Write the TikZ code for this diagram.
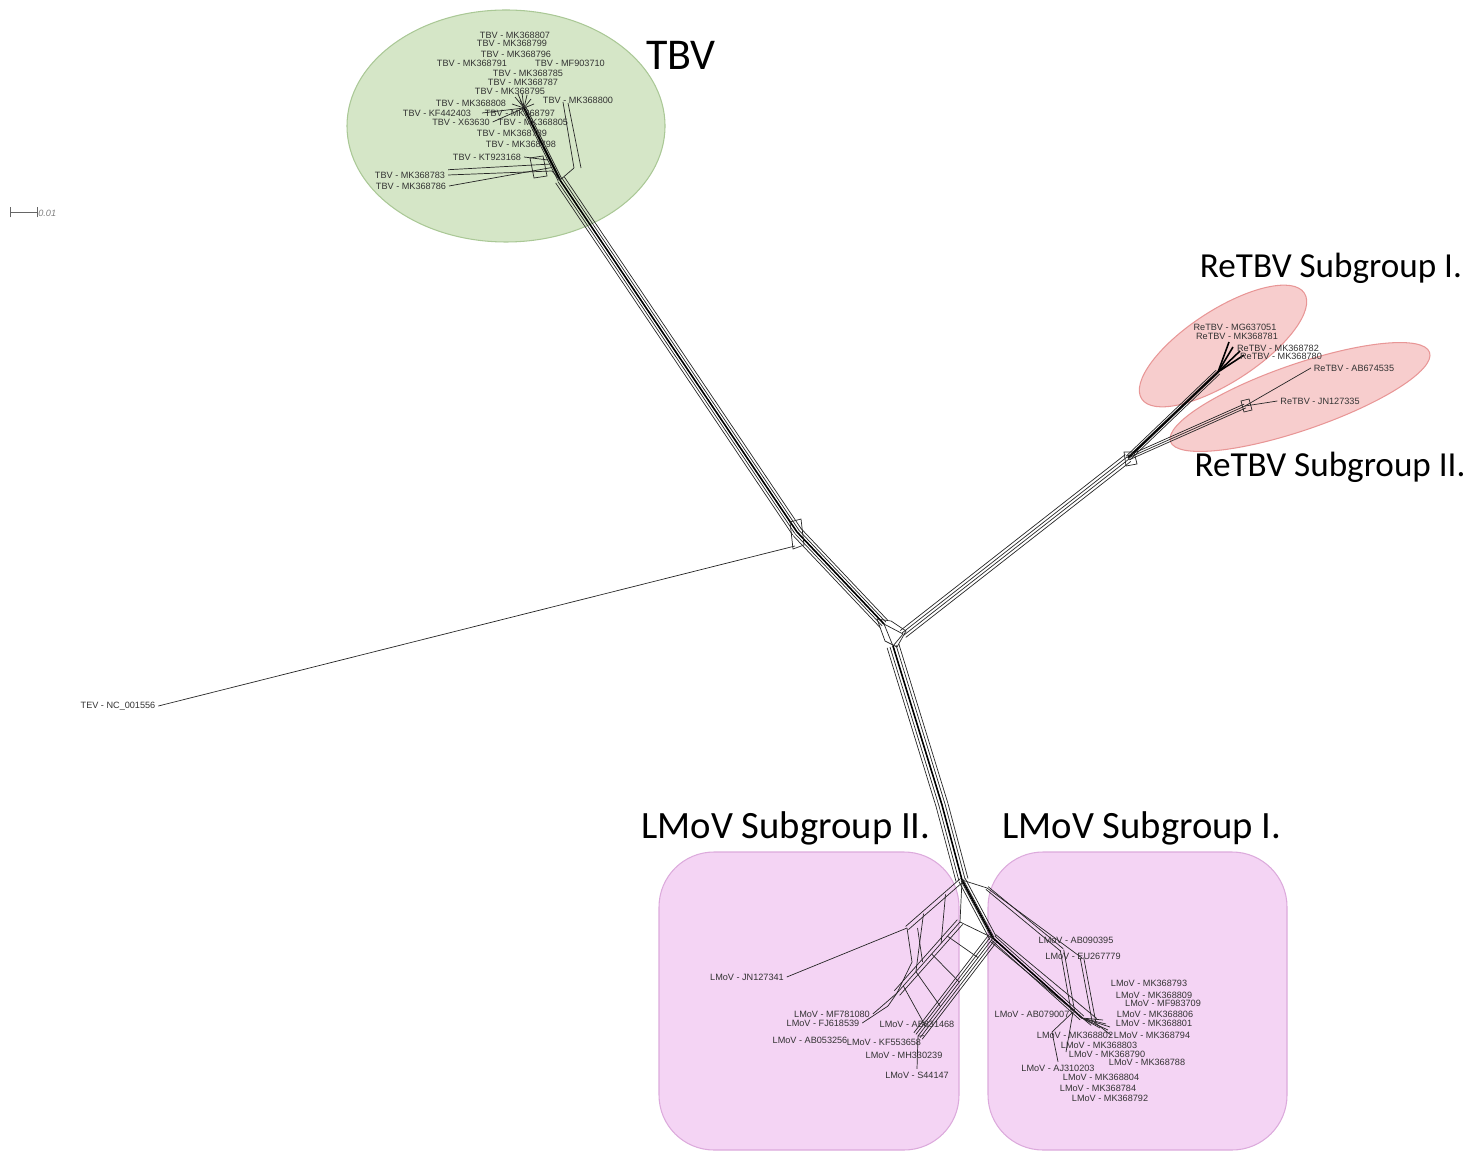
\documentclass[tikz,border=0pt]{standalone}
\usepackage{fontspec}
\setmainfont{Liberation Sans}
\newfontfamily\grpfont{Carlito}
\usetikzlibrary{calc}

\definecolor{tbvgreen}{RGB}{213,230,199}
\definecolor{tbvedge}{RGB}{170,200,150}
\definecolor{retbvpink}{RGB}{246,200,200}
\definecolor{retbvedge}{RGB}{232,150,150}
\definecolor{lmovpink}{RGB}{244,212,244}
\definecolor{lmovedge}{RGB}{220,170,220}

% parallel lines between two points (split network bands)
\newcommand{\bundle}[3]{\foreach \off in {#3}{\draw[net] ($(#1)!\off pt!90:(#2)$) -- ($(#2)!\off pt!-90:(#1)$);}}

\begin{document}
\begin{tikzpicture}[x=0.02cm, y=-0.02cm,
  net/.style = {draw = black!85, line width = .4pt},
  netb/.style = {draw = black, line width = .9pt},
  lbl/.style = {font = \fontsize{5.2}{6}\selectfont, text = black!80, inner sep = 1.5pt},
  grp/.style = {font = \grpfont\fontsize{#1}{#1}\selectfont, inner sep = 0pt},
  greenblob/.style = {fill = tbvgreen, draw = tbvedge, line width = .6pt},
  redblob/.style = {fill = retbvpink, draw = retbvedge, line width = .6pt, fill opacity = .9},
  lmovbox/.style = {fill = lmovpink, draw = lmovedge, line width = .6pt, rounded corners = 1.1cm}]
    \useasboundingbox (0,0) rectangle (1476,1151);

    % group shapes
    \path[greenblob] (506,126) ellipse [x radius = 159, y radius = 116];
    \path[redblob, rotate around = {19:(1300,397)}] (1300,397) ellipse [x radius = 137, y radius = 33];
    \path[redblob, rotate around = {33:(1223,346)}] (1223,346) ellipse [x radius = 97, y radius = 36];
    \path[lmovbox] (659,852) rectangle (959,1150);
    \path[lmovbox] (988,852) rectangle (1287,1150);

    % group titles
    \node[grp = 25] (tbvT) at (681,55) {TBV};
    \node[grp = 20] (reOneT) at (1331,268) {ReTBV Subgroup I.};
    \node[grp = 20] (reTwoT) at (1330,467) {ReTBV Subgroup II.};
    \node[grp = 22] (lmTwoT) at (786,828) {LMoV Subgroup II.};
    \node[grp = 22] (lmOneT) at (1142,828) {LMoV Subgroup I.};

    % scale bar
    \coordinate (sbA) at (10,212);
    \coordinate (sbB) at (37,212);
    \draw[black!60, line width = .4pt] (sbA) -- (sbB);
    \draw[black!60, line width = .4pt] ([yshift = -3]sbA) -- ([yshift = 3]sbA);
    \draw[black!60, line width = .4pt] ([yshift = -3]sbB) -- ([yshift = 3]sbB);
    \node[lbl, text = black!50, anchor = west, inner sep = 0pt] (sbL) at (38,213) {\itshape 0.01};

    % main splits
    \coordinate (tbvHub) at (524,108);
    \coordinate (tbvBase) at (560,180);
    \coordinate (tevJ) at (797,532);
    \coordinate (tevFork) at (795,546);
    \coordinate (cenT) at (884,624);
    \coordinate (cenR) at (903,634);
    \coordinate (cenL) at (893,646);
    \coordinate (reFork) at (1128,458);
    \coordinate (reOne) at (1218,372);
    \coordinate (reTwo) at (1245,406);
    \coordinate (lmBend) at (942,805);
    \coordinate (lmSplit) at (962,880);
    \coordinate (lmOne) at (993,938);
    \coordinate (lmTwo) at (960,922);

    \bundle{tbvHub}{tbvBase}{-1.2,-.4,.4,1.2}
    \draw[netb] (tbvHub) -- (tbvBase);
    \bundle{tbvBase}{tevJ}{-3,-1.5,0,1.5,3}
    \draw[netb] (tbvBase) -- (tevJ);
    \bundle{tevJ}{cenT}{-3,-1.5,0,1.5,3}
    \draw[netb] (tevJ) -- (cenT);
    \draw[net] (790,522) -- (801,519) -- (804,545) -- (793,549) -- cycle;
    \draw[net] (877,619) -- (891,621) -- (906,631) -- (897,647) -- (885,641) -- cycle;
    \draw[net] (cenT) -- (cenR) -- (cenL) -- (cenT);

    % TEV
    \node[lbl] (tev) at (118,706) {TEV - NC\_001556};
    \draw[net] (tevFork) -- (tev.east);

    % ReTBV
    \bundle{cenR}{reFork}{-2.5,-.8,.8,2.5}
    \draw[net] (1124,452) -- (1134,452) -- (1137,464) -- (1126,466) -- cycle;
    \bundle{reFork}{reOne}{-1.5,-.5,.5,1.5}
    \draw[netb] (reFork) -- (reOne);
    \bundle{reFork}{reTwo}{-1.2,0,1.2}
    \draw[net] (1241,401) -- (1249,399) -- (1252,410) -- (1244,412) -- cycle;
    \foreach \x/\y [count = \i] in {1229/342, 1233/347, 1240/351, 1244/355}
      {\coordinate (reOneTip\i) at (\x,\y); \draw[netb] (reOne) -- (reOneTip\i);}
    \node[lbl] (r051) at (1235,327) {ReTBV - MG637051};
    \node[lbl] (r781) at (1237,336) {ReTBV - MK368781};
    \node[lbl] (r782) at (1278,348) {ReTBV - MK368782};
    \node[lbl] (r780) at (1281,356) {ReTBV - MK368780};
    \node[lbl] (r535) at (1354,368) {ReTBV - AB674535};
    \node[lbl] (r335) at (1320,401) {ReTBV - JN127335};
    \draw[net] (reTwo) -- (r535.west);
    \draw[net] (reTwo) -- (r335.west);

    % TBV cluster
    \foreach \x/\y [count = \i] in {515/97, 518/94, 522/93, 527/95, 531/99, 512/104, 534/104, 520/100}
      {\coordinate (tbvTip\i) at (\x,\y); \draw[net] (tbvHub) -- (tbvTip\i);}
    \coordinate (tbvRight) at (574,168);
    \coordinate (tbvLow) at (552,171);
    \draw[net] (tbvBase) -- (tbvRight);
    \node[lbl] (t807) at (515,35) {TBV - MK368807};
    \node[lbl] (t799) at (512,43) {TBV - MK368799};
    \node[lbl] (t796) at (516,54) {TBV - MK368796};
    \node[lbl] (t791) at (472,63) {TBV - MK368791};
    \node[lbl] (t710) at (570,63) {TBV - MF903710};
    \node[lbl] (t785) at (528,73) {TBV - MK368785};
    \node[lbl] (t787) at (523,82) {TBV - MK368787};
    \node[lbl] (t795) at (510,91) {TBV - MK368795};
    \node[lbl] (t808) at (471,103) {TBV - MK368808};
    \node[lbl] (t800) at (578,100) {TBV - MK368800};
    \node[lbl] (t403) at (437,113) {TBV - KF442403};
    \node[lbl] (t797) at (520,113) {TBV - MK368797};
    \node[lbl] (t630) at (461,122) {TBV - X63630};
    \node[lbl] (t805) at (533,122) {TBV - MK368805};
    \node[lbl] (t789) at (512,133) {TBV - MK368789};
    \node[lbl] (t798) at (521,144) {TBV - MK368798};
    \node[lbl] (t168) at (487,157) {TBV - KT923168};
    \node[lbl] (t783) at (410,175) {TBV - MK368783};
    \node[lbl] (t786) at (411,186) {TBV - MK368786};
    \draw[net] (tbvRight) -- (563,102);
    \draw[net] ([xshift = 4]tbvRight) -- (568,103);
    \draw[net] (tbvHub) -- (t797.west);
    \draw[net] (tbvHub) -- (t630.east);
    \draw[net] (tbvBase) -- (tbvLow);
    \draw[net] (tbvLow) -- (t783.east);
    \draw[net] ([yshift = 2]tbvLow) -- (t786.east);
    \draw[net] ([yshift = 4]tbvLow) -- ([yshift = 3]t783.east);
    \draw[net] (530,158) -- (543,156) -- (547,176) -- (534,178) -- cycle;
    \draw[net] (t168.east) -- (548,160);

    % LMoV trunk
    \bundle{cenL}{lmBend}{-3.5,-1.8,0,1.8,3.5}
    \draw[netb] (cenL) -- (lmBend);
    \bundle{lmBend}{lmSplit}{-3.5,-1.8,0,1.8,3.5}
    \draw[netb] (lmBend) -- (lmSplit);
    \bundle{lmSplit}{lmOne}{-2,-.7,.7,2}
    \draw[netb] (lmSplit) -- (lmOne);
    \draw[net] (lmSplit) -- (lmTwo) -- (lmOne);

    % LMoV subgroup II
    \coordinate (lmTwoA) at (907,928);
    \coordinate (lmTwoB) at (897,993);
    \coordinate (lmTwoC) at (918,1036);
    \coordinate (lmTwoD) at (888,1006);
    \coordinate (lmTwoE) at (912,962);
    \bundle{lmSplit}{lmTwoA}{-1.2,1.2}
    \bundle{lmTwo}{lmTwoB}{-2,0,2}
    \bundle{lmOne}{lmTwoC}{-3,-1.5,0,1.5,3}
    \draw[net] (lmTwoA) -- (lmTwoE) -- (lmTwoB);
    \draw[net] ([xshift = 6]lmTwoA) -- ([xshift = 6]lmTwoE);
    \foreach \t in {.2,.45,.7,.9}
      \draw[net] ($(lmTwo)!\t!(lmTwoB)$) -- ($(lmOne)!\t!(lmTwoC)$);
    \foreach \t in {.3,.7}
      \draw[net] ($(lmSplit)!\t!(lmTwoA)$) -- ($(lmTwo)!\t!(lmTwoB)$);
    \draw[net] (lmTwoB) -- (lmTwoD);
    \node[lbl] (l341) at (747,977) {LMoV - JN127341};
    \node[lbl] (l080) at (832,1014) {LMoV - MF781080};
    \node[lbl] (l539) at (823,1023) {LMoV - FJ618539};
    \node[lbl] (l256) at (810,1040) {LMoV - AB053256};
    \node[lbl] (l468) at (917,1024) {LMoV - AB831468};
    \node[lbl] (l658) at (884,1042) {LMoV - KF553658};
    \node[lbl] (l239) at (904,1055) {LMoV - MH330239};
    \node[lbl] (l147) at (917,1075) {LMoV - S44147};
    \draw[net] (lmTwoA) -- (l341.east);
    \draw[net] (lmTwoB) -- (l080.east);
    \draw[net] (lmTwoD) -- (l539.east);
    \draw[net] (lmTwoC) -- (l658.north east);
    \draw[net] (lmTwoC) -- (l147.north);

    % LMoV subgroup I
    \coordinate (lmOneC) at (1082,1018);
    \coordinate (lmUpA) at (987,888);
    \coordinate (lmUpB) at (1062,950);
    \coordinate (lmUpC) at (1082,958);
    \coordinate (lmUpD) at (1073,1012);
    \coordinate (lmUpE) at (1094,1022);
    \bundle{lmOne}{lmOneC}{-1.5,0,1.5}
    \draw[netb] (lmOne) -- (lmOneC);
    \bundle{lmUpA}{lmUpB}{-1,1}
    \draw[net] (lmUpA) -- (lmUpC);
    \draw[net] (lmSplit) -- (lmUpA);
    \bundle{lmUpB}{lmUpD}{-1,1}
    \bundle{lmUpC}{lmUpE}{-1,1}
    \bundle{lmOne}{lmUpE}{-2.5,2.5}
    \foreach \x/\y [count = \i] in {1108/1030, 1106/1024, 1103/1020, 1100/1028, 1110/1027}
      {\coordinate (lmOneTip\i) at (\x,\y); \draw[net] (lmOneC) -- (lmOneTip\i);}
    \node[lbl] (m395) at (1076,940) {LMoV - AB090395};
    \node[lbl] (m779) at (1083,956) {LMoV - EU267779};
    \node[lbl] (m793) at (1149,983) {LMoV - MK368793};
    \node[lbl] (m809) at (1154,995) {LMoV - MK368809};
    \node[lbl] (m709) at (1163,1003) {LMoV - MF983709};
    \node[lbl] (m007) at (1032,1014) {LMoV - AB079007};
    \node[lbl] (m806) at (1155,1014) {LMoV - MK368806};
    \node[lbl] (m801) at (1154,1023) {LMoV - MK368801};
    \node[lbl] (m802) at (1075,1035) {LMoV - MK368802};
    \node[lbl] (m794) at (1152,1035) {LMoV - MK368794};
    \node[lbl] (m803) at (1099,1045) {LMoV - MK368803};
    \node[lbl] (m790) at (1107,1054) {LMoV - MK368790};
    \node[lbl] (m788) at (1147,1062) {LMoV - MK368788};
    \node[lbl] (m203) at (1058,1068) {LMoV - AJ310203};
    \node[lbl] (m804) at (1101,1077) {LMoV - MK368804};
    \node[lbl] (m784) at (1098,1088) {LMoV - MK368784};
    \node[lbl] (m792) at (1110,1098) {LMoV - MK368792};
    \draw[net] (lmUpD) -- (m007.east);
    \draw[net] (lmUpD) -- (1066,1052);
    \draw[net] (lmUpD) -- (1052,1032) -- (m203.north);
    \draw[net] (lmUpE) -- (m794.west);
\end{tikzpicture}
\end{document}
